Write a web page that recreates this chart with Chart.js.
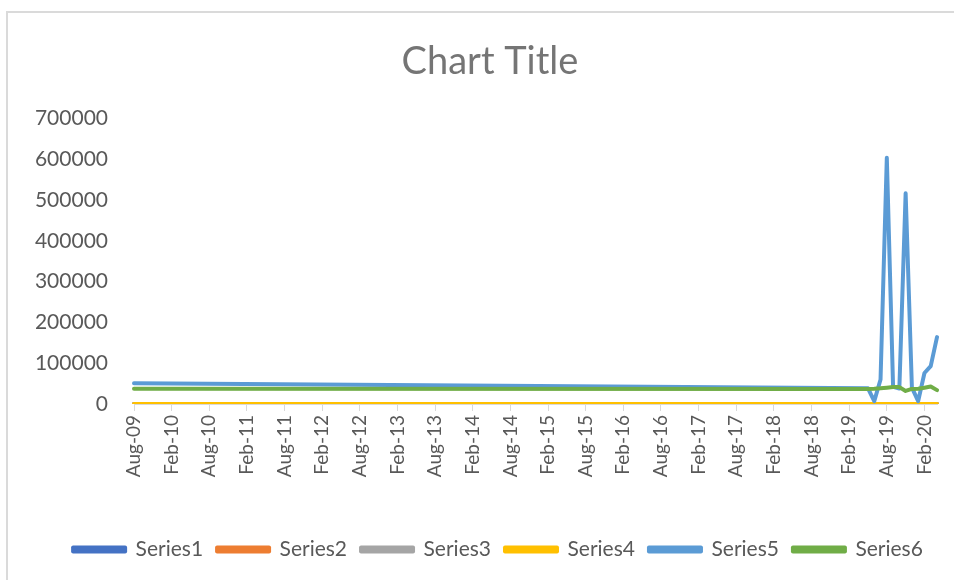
<!DOCTYPE html>
<html>
<head>
<meta charset="utf-8">
<script src="https://cdn.jsdelivr.net/npm/chart.js@4"></script>
<style>
  html, body { margin: 0; padding: 0; background: #fff; overflow: hidden; }
  body { width: 954px; height: 580px; position: relative; }
  #frame { position: absolute; left: 6px; top: 11px; width: 1000px; height: 1000px;
           border-top: 2px solid #dadada; border-left: 2px solid #dadada; }
  #wrap { position: absolute; left: 8px; top: 12px; width: 964px; height: 568px; }
</style>
</head>
<body>
<div id="frame"></div>
<div id="wrap"><canvas id="chart"></canvas></div>
<script>
// monthly categories Aug-09 .. Apr-20
var monthNames = ['Jan','Feb','Mar','Apr','May','Jun','Jul','Aug','Sep','Oct','Nov','Dec'];
var months = [];
for (let i = 0; i < 129; i++) {
  let m = (7 + i) % 12;
  let y = 9 + Math.floor((7 + i) / 12);
  months.push(monthNames[m] + '-' + String(y).padStart(2, '0'));
}

// dates that carry values (the lines are straight between them)
var pointDates = ['Aug-09','May-19','Jun-19','Jul-19','Aug-19','Sep-19','Oct-19','Nov-19','Dec-19','Jan-20','Feb-20','Mar-20','Apr-20'];
var series1 = [0, 0, 0, 0, 0, 0, 0, 0, 0, 0, 0, 0, 0];
var series2 = [0, 0, 0, 0, 0, 0, 0, 0, 0, 0, 0, 0, 0];
var series3 = [0, 0, 0, 0, 0, 0, 0, 0, 0, 0, 0, 0, 0];
var series4 = [0, 0, 0, 0, 0, 0, 0, 0, 0, 0, 0, 0, 0];
var series5 = [51000, 38500, 7000, 60000, 604000, 42000, 38000, 517000, 40000, 7000, 76000, 93000, 164000];
var series6 = [37500, 37000, 37500, 38500, 40000, 41500, 41500, 32000, 37000, 37500, 40000, 43000, 34000];

var names = ['Series1','Series2','Series3','Series4','Series5','Series6'];
var colors = ['#4472C4','#ED7D31','#A5A5A5','#FFC000','#5B9BD5','#70AD47'];
var values = [series1, series2, series3, series4, series5, series6];

var datasets = [];
for (let s = 0; s < values.length; s++) {
  datasets.push({
    label: names[s],
    data: values[s].map(function(v, i) { return { x: pointDates[i], y: v }; }),
    borderColor: colors[s],
    backgroundColor: colors[s],
    borderWidth: 4,
    borderCapStyle: 'round',
    borderJoinStyle: 'round',
    pointRadius: 0,
    tension: 0,
    order: values.length - 1 - s
  });
}

// nudge the legend a little right, like the Excel one
var legendShift = {
  id: 'legendShift',
  afterLayout: function(chart) {
    chart.legend.left += 8;
    chart.legend.right += 8;
  }
};

var ctx = document.getElementById('chart').getContext('2d');
var myChart = new Chart(ctx, {
  type: 'line',
  data: { labels: months, datasets: datasets },
  plugins: [legendShift],
  options: {
    responsive: true,
    maintainAspectRatio: false,
    animation: false,
    layout: { padding: { left: 0, right: 0, top: 0, bottom: 10 } },
    plugins: {
      title: {
        display: true,
        text: 'Chart Title',
        color: '#757575',
        font: { family: 'Lato', size: 38, weight: 'normal' },
        padding: { top: 27, bottom: 34 }
      },
      legend: {
        position: 'bottom',
        labels: {
          color: '#595959',
          font: { family: 'Lato', size: 21 },
          boxWidth: 52,
          boxHeight: 4,
          padding: 14,
          sort: function(a, b) { return a.datasetIndex - b.datasetIndex; }
        }
      },
      tooltip: { enabled: false }
    },
    scales: {
      x: {
        offset: false,
        grid: { display: true, drawOnChartArea: false, drawTicks: true, tickLength: 7, color: '#d9d9d9' },
        border: { display: true, color: '#d9d9d9', width: 1 },
        ticks: {
          autoSkip: false,
          maxRotation: 90,
          minRotation: 90,
          padding: 4,
          color: '#595959',
          font: { family: 'Lato', size: 19 },
          callback: function(value, index) {
            return index % 6 === 0 ? this.getLabelForValue(value) : null;
          }
        },
        afterFit: function(scale) { scale.height = 121; }
      },
      y: {
        min: 0,
        max: 700000,
        grid: { display: false },
        border: { display: false },
        ticks: {
          stepSize: 100000,
          padding: 18,
          color: '#595959',
          font: { family: 'Lato', size: 21 },
          callback: function(v) { return String(v); }
        },
        afterFit: function(scale) { scale.width = 126; }
      },
      // empty right-hand space, keeps title and legend centred on the frame
      yRight: {
        position: 'right',
        display: true,
        grid: { display: false },
        border: { display: false },
        ticks: { display: false },
        afterFit: function(scale) { scale.width = 35; }
      }
    }
  }
});
</script>
</body>
</html>
